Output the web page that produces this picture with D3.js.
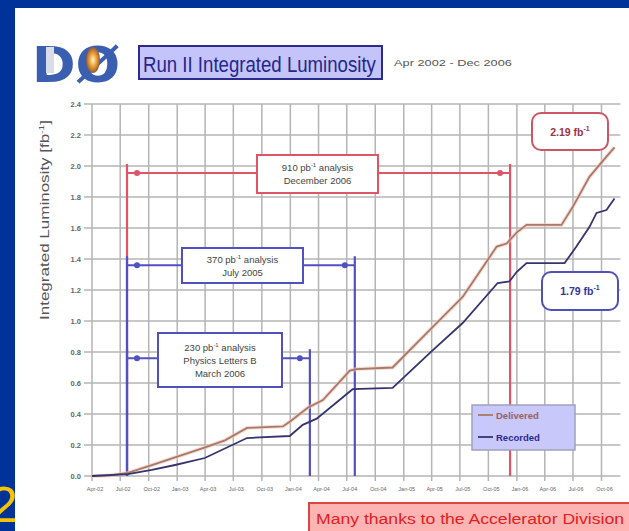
<!DOCTYPE html>
<html><head><meta charset="utf-8">
<script src="https://cdn.jsdelivr.net/npm/d3@7"></script>
<style>html,body{margin:0;padding:0;background:#003399;}svg{display:block;}</style>
</head><body>
<svg id="c" width="629" height="531"></svg>
<script>
// ---------- data ----------
const deliveredDates = ["2002-04-01","2002-05-29","2002-07-26","2002-10-11","2002-12-25","2003-03-25","2003-06-04","2003-08-14","2003-12-08","2003-12-30","2004-02-26","2004-04-15","2004-07-11","2004-08-02","2004-11-26","2005-04-04","2005-07-10","2005-10-28","2005-11-29","2005-12-31","2006-02-01","2006-05-25","2006-06-30","2006-08-23","2006-10-17","2006-11-12"];
const deliveredValues = [0.0,0.004,0.02,0.07,0.12,0.18,0.23,0.31,0.32,0.35,0.44,0.49,0.68,0.69,0.70,0.96,1.155,1.48,1.50,1.57,1.62,1.62,1.735,1.93,2.06,2.12];
const recordedDates = ["2002-04-01","2002-07-26","2002-10-11","2002-12-25","2003-03-31","2003-08-14","2003-12-30","2004-02-10","2004-03-26","2004-07-20","2004-11-26","2005-04-04","2005-07-10","2005-10-31","2005-12-08","2005-12-31","2006-02-01","2006-06-04","2006-07-12","2006-08-23","2006-09-15","2006-10-17","2006-11-12"];
const recordedValues = [0.0,0.012,0.039,0.071,0.116,0.245,0.258,0.33,0.37,0.56,0.568,0.81,0.987,1.245,1.255,1.316,1.374,1.374,1.48,1.606,1.697,1.716,1.79];
const yTicks = [0,0.2,0.4,0.6,0.8,1.0,1.2,1.4,1.6,1.8,2.0,2.2,2.4];
const xTickLabels = ["Apr-02","Jul-02","Oct-02","Jan-03","Apr-03","Jul-03","Oct-03","Jan-04","Apr-04","Jul-04","Oct-04","Jan-05","Apr-05","Jul-05","Oct-05","Jan-06","Apr-06","Jul-06","Oct-06"];
const analysisNames = ["910 pb","370 pb","230 pb"];
const analysisLines = [["analysis","December 2006"],["analysis","July 2005"],["analysis","Physics Letters B","March 2006"]];
const analysisStart = ["2002-07-23","2002-07-23","2002-07-23"];
const analysisEnd = ["2005-12-10","2004-07-27","2004-03-04"];
const analysisLevel = [1.955,1.36,0.76];
const seriesNames = ["Delivered","Recorded"];
const finalLabels = ["2.19 fb","1.79 fb"];

// ---------- layout ----------
const svg = d3.select("#c");
const parse = d3.timeParse("%Y-%m-%d");
const L=92, R=620.4, T=104, B=476;
const x = d3.scaleTime().domain([parse("2002-04-01"), parse("2006-12-01")]).range([L, R]);
const y = d3.scaleLinear().domain([0,2.4]).range([B,T]);
const font = "'Liberation Sans', Arial, sans-serif";

// background
svg.append("rect").attr("width",629).attr("height",531).attr("fill","#003399");
svg.append("text").attr("x",-10).attr("y",522).attr("font-family",font).attr("font-size",50)
  .attr("fill","#f5c400").text("2");
svg.append("rect").attr("x",15).attr("y",8).attr("width",614).attr("height",523).attr("fill","#ffffff");

// logo
const defs = svg.append("defs");
const rg = defs.append("radialGradient").attr("id","glow");
rg.append("stop").attr("offset","0%").attr("stop-color","#fff4c0");
rg.append("stop").attr("offset","55%").attr("stop-color","#e89a30");
rg.append("stop").attr("offset","100%").attr("stop-color","#8a5a40");
svg.append("text").attr("transform","translate(32,82) scale(1.05,1)").attr("font-family","'DejaVu Sans', sans-serif")
  .attr("font-weight","bold").attr("font-size",50).attr("fill","#3a5fb0").text("DØ");
svg.append("rect").attr("x",46).attr("y",47).attr("width",8).attr("height",26).attr("fill","#d8dde8");
svg.append("ellipse").attr("cx",93).attr("cy",60).attr("rx",7).attr("ry",13).attr("fill","url(#glow)");

// title
svg.append("rect").attr("x",139).attr("y",46).attr("width",243).attr("height",33)
  .attr("fill","#c4c4fa").attr("stroke","#2b2b8c").attr("stroke-width",2);
const title = svg.append("text").attr("font-family",font).attr("font-size",22)
  .attr("fill","#26268a").text("Run II Integrated Luminosity");
const tw = title.node().getComputedTextLength();
title.attr("transform",`translate(143,72) scale(${233/tw},1)`);
const sub = svg.append("text").attr("font-family",font).attr("font-size",9)
  .attr("fill","#555").text("Apr 2002 - Dec 2006");
const sw = sub.node().getComputedTextLength();
sub.attr("transform",`translate(394,66) scale(${118/sw},1)`);

// grid
const g = svg.append("g");
const xTickDates = d3.timeMonth.range(parse("2002-04-01"), parse("2006-10-02"), 3);
g.selectAll(".hg").data(yTicks).join("line")
  .attr("x1",L-8).attr("x2",R).attr("y1",d=>y(d)).attr("y2",d=>y(d))
  .attr("stroke","#b4b4b4").attr("stroke-width",1.5);
g.selectAll(".vg").data(xTickDates).join("line")
  .attr("x1",d=>x(d)).attr("x2",d=>x(d)).attr("y1",T).attr("y2",B+5)
  .attr("stroke","#b4b4b4").attr("stroke-width",1.5);
g.selectAll(".yl").data(yTicks).join("text")
  .attr("x",81).attr("y",d=>y(d)+3).attr("text-anchor","end")
  .attr("font-family",font).attr("font-size",7.5).attr("font-weight","bold").attr("fill","#666")
  .text(d=>d.toFixed(1));
g.selectAll(".xl").data(xTickDates).join("text")
  .attr("x",d=>x(d)+3).attr("y",491).attr("text-anchor","middle")
  .attr("font-family",font).attr("font-size",5.5).attr("fill","#666")
  .text((d,i)=>xTickLabels[i]);
svg.append("text").attr("transform","translate(49,220) rotate(-90)").attr("text-anchor","middle")
  .attr("font-family",font).attr("font-size",13.5).attr("fill","#555")
  .attr("textLength",200).attr("lengthAdjust","spacingAndGlyphs")
  .html('Integrated Luminosity  [fb<tspan dy="-5" font-size="8">-1</tspan><tspan dy="5">]</tspan>');

// analysis brackets
const aColors = ["#dd5566","#5050c0","#5050c0"];
const boxes = [[257,155,121,38],[182,248,121,35],[158,333,124,54]];
[0,1,2].forEach(i=>{
  const x0 = x(parse(analysisStart[i])), x1 = x(parse(analysisEnd[i])), yy = y(analysisLevel[i]);
  const top = yy - 9;
  const c = aColors[i];
  svg.append("line").attr("x1",x0).attr("x2",x1).attr("y1",yy).attr("y2",yy).attr("stroke",c).attr("stroke-width",2);
  svg.append("line").attr("x1",x1).attr("x2",x1).attr("y1",top).attr("y2",B).attr("stroke",c).attr("stroke-width",2.2);
  svg.append("line").attr("x1",x0).attr("x2",x0).attr("y1",top).attr("y2",B).attr("stroke",c).attr("stroke-width",2.2);
  svg.append("circle").attr("cx",x0+10).attr("cy",yy).attr("r",3).attr("fill",c);
  svg.append("circle").attr("cx",x1-10).attr("cy",yy).attr("r",3).attr("fill",c);
  const b = boxes[i];
  svg.append("rect").attr("x",b[0]).attr("y",b[1]).attr("width",b[2]).attr("height",b[3])
    .attr("fill","#fff").attr("stroke",c).attr("stroke-width",2);
  const cx = b[0]+b[2]/2;
  const lines = analysisLines[i];
  const t0 = b[1] + (b[3] - lines.length*13)/2 + 10;
  lines.forEach((ln,k)=>{
    const t = svg.append("text").attr("x",cx).attr("y",t0+k*13).attr("text-anchor","middle")
      .attr("font-family",font).attr("font-size",9.5).attr("fill","#444");
    if(k===0){
      t.html(analysisNames[i]+'<tspan dy="-4" font-size="6">-1</tspan><tspan dy="4"> analysis</tspan>');
    } else t.text(ln);
  });
});

// series
const del = deliveredDates.map((d,i)=>({d:parse(d),v:deliveredValues[i]}));
const rec = recordedDates.map((d,i)=>({d:parse(d),v:recordedValues[i]}));
const line = d3.line().x(d=>x(d.d)).y(d=>y(d.v));
svg.append("path").datum(del).attr("d",line).attr("fill","none").attr("stroke","#f3c8b8").attr("stroke-width",4).attr("opacity",0.6);
svg.append("path").datum(del).attr("d",line).attr("fill","none").attr("stroke","#a8786a").attr("stroke-width",1.8);
svg.append("path").datum(rec).attr("d",line).attr("fill","none").attr("stroke","#34346e").attr("stroke-width",1.8);

// final labels
const fb = [[532,113,76,37,"#cc5566","#993344"],[542,272,76,38,"#5050b8","#333399"]];
fb.forEach((b,i)=>{
  svg.append("rect").attr("x",b[0]).attr("y",b[1]).attr("width",b[2]).attr("height",b[3]).attr("rx",9)
    .attr("fill","#fff").attr("stroke",b[4]).attr("stroke-width",2);
  svg.append("text").attr("x",b[0]+b[2]/2).attr("y",b[1]+b[3]/2+4).attr("text-anchor","middle")
    .attr("font-family",font).attr("font-size",10.5).attr("font-weight","bold").attr("fill",b[5])
    .html(finalLabels[i]+'<tspan dy="-5" font-size="7">-1</tspan>');
});

// legend
svg.append("rect").attr("x",472).attr("y",405).attr("width",103).attr("height",45)
  .attr("fill","#c8c8fa").attr("stroke","#a0a0c0").attr("stroke-width",1.5);
const lc = ["#a8786a","#34346e"], tc = ["#9a6060","#2a2a90"];
seriesNames.forEach((s,i)=>{
  const yy = 415 + i*22;
  svg.append("line").attr("x1",478).attr("x2",493).attr("y1",yy).attr("y2",yy).attr("stroke",lc[i]).attr("stroke-width",1.8);
  svg.append("text").attr("x",496).attr("y",yy+3.5).attr("font-family",font).attr("font-size",9.5)
    .attr("font-weight","bold").attr("fill",tc[i]).text(s);
});

// footer
svg.append("rect").attr("x",309).attr("y",503).attr("width",330).attr("height",30)
  .attr("fill","#ffb4b4").attr("stroke","#dd4444").attr("stroke-width",2);
svg.append("text").attr("x",316).attr("y",524).attr("font-family",font).attr("font-size",14)
  .attr("fill","#e02020").attr("textLength",308).attr("lengthAdjust","spacingAndGlyphs")
  .text("Many thanks to the Accelerator Division");
</script>
</body></html>
